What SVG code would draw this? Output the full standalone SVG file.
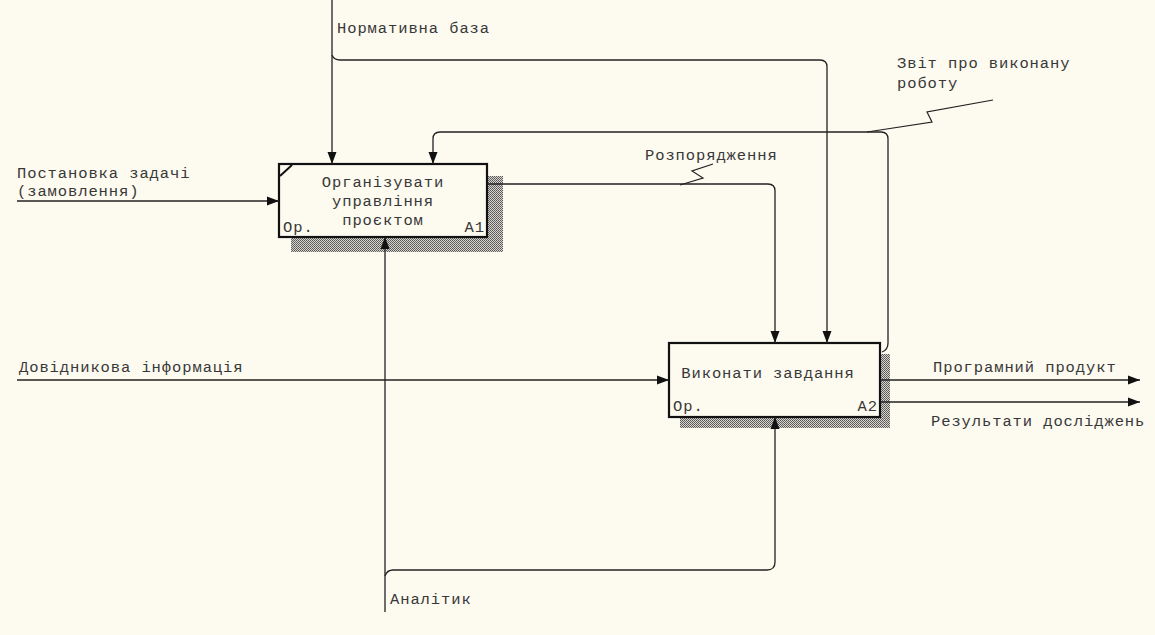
<svg xmlns="http://www.w3.org/2000/svg" width="1155" height="635" viewBox="0 0 1155 635">
<defs>
<pattern id="hatch" width="2" height="2" patternUnits="userSpaceOnUse">
<rect width="2" height="2" fill="#d8d5ce"/>
<rect width="1" height="1" fill="#555"/>
<rect x="1" y="1" width="1" height="1" fill="#666"/>
</pattern>
<marker id="arr" viewBox="0 0 12 10" refX="12" refY="5" markerWidth="12" markerHeight="10" markerUnits="userSpaceOnUse" orient="auto">
<path d="M0,0.5 L12,5 L0,9.5 Z" fill="#111"/>
</marker>
</defs>
<style>
text{font-family:"Liberation Mono","DejaVu Sans Mono",monospace;font-size:15.5px;letter-spacing:0.9px;fill:#383838}
.c{fill:none;stroke:#222;stroke-width:1.3}
.s{fill:none;stroke:#222;stroke-width:1.2}
.box{fill:#fdfaf0;stroke:#111;stroke-width:2.2}
.sh{fill:url(#hatch)}
</style>
<rect width="1155" height="635" fill="#fdfaf0"/>

<g id="A1">
<rect class="sh" x="291" y="176" width="212" height="76"/>
<rect class="box" x="279" y="164" width="208" height="73"/>
<line x1="280" y1="176" x2="292" y2="165" stroke="#111" stroke-width="2"/>
<text x="383" y="187" text-anchor="middle">Організувати</text>
<text x="383" y="206" text-anchor="middle">управління</text>
<text x="383" y="225" text-anchor="middle">проєктом</text>
<text x="283" y="232">Op.</text>
<text x="485" y="232" text-anchor="end">A1</text>
</g>

<g id="A2">
<rect class="sh" x="680" y="354" width="210" height="74"/>
<rect class="box" x="669" y="343" width="211" height="74"/>
<text x="768" y="378" text-anchor="middle">Виконати завдання</text>
<text x="673" y="411">Op.</text>
<text x="878" y="411" text-anchor="end">A2</text>
</g>

<g id="connectors">
<path class="c" d="M332,0 V164" marker-end="url(#arr)"/>
<path class="c" d="M332,55 Q334,60 340,60 H820 Q827,60 827,67 V343" marker-end="url(#arr)"/>
<path class="c" d="M487,184 H768 Q775,184 775,191 V343" marker-end="url(#arr)"/>
<polyline class="s" points="680,185 703,178 692,171 713,164"/>
<path class="c" d="M882,352 Q888,350 888,343 V139 Q888,132 881,132 H440 Q433,132 433,139 V164" marker-end="url(#arr)"/>
<polyline class="s" points="867,132 932,122 927,112 993,100"/>
<path class="c" d="M17,201 H279" marker-end="url(#arr)"/>
<path class="c" d="M17,380 H669" marker-end="url(#arr)"/>
<path class="c" d="M880,380 H1140" marker-end="url(#arr)"/>
<path class="c" d="M880,402 H1140" marker-end="url(#arr)"/>
<path class="c" d="M385,612 V237" marker-end="url(#arr)"/>
<path class="c" d="M385,576 Q387,570 393,570 H767 Q775,570 775,562 V417" marker-end="url(#arr)"/>
</g>

<g id="labels">
<text x="337" y="33">Нормативна база</text>
<text x="897" y="68">Звіт про виконану</text>
<text x="897" y="88">роботу</text>
<text x="645" y="160">Розпорядження</text>
<text x="17" y="178">Постановка задачі</text>
<text x="17" y="196">(замовлення)</text>
<text x="19" y="372">Довідникова інформація</text>
<text x="933" y="372">Програмний продукт</text>
<text x="931" y="426">Результати досліджень</text>
<text x="390" y="604">Аналітик</text>
</g>
</svg>
